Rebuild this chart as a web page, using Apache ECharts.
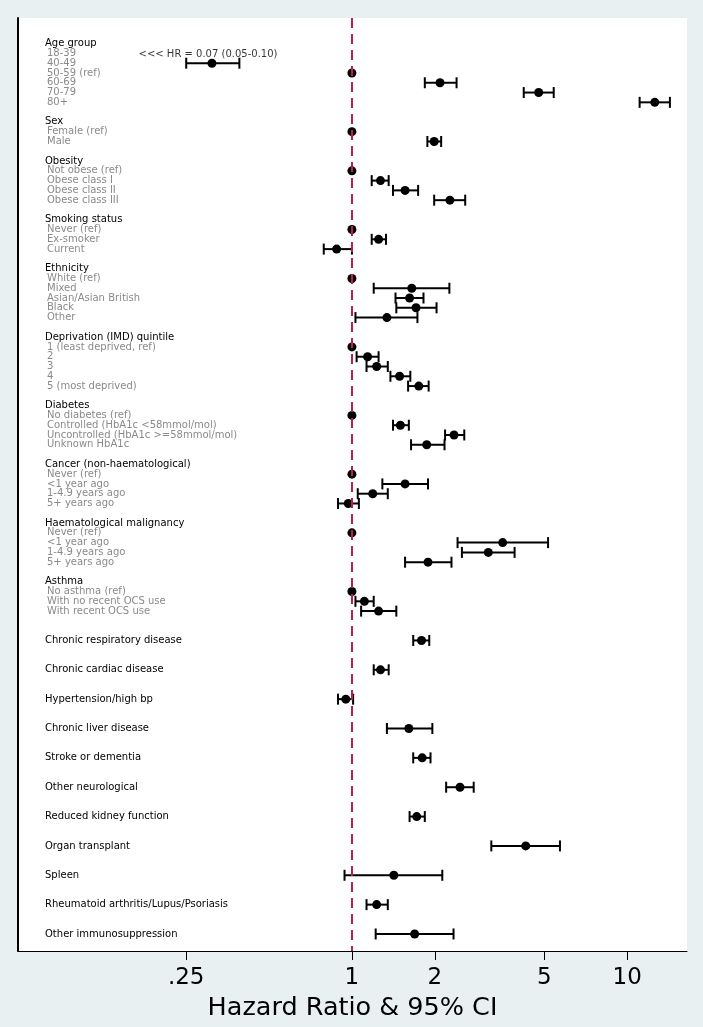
<!DOCTYPE html>
<html>
<head>
<meta charset="utf-8">
<script src="https://cdn.jsdelivr.net/npm/echarts@6/dist/echarts.min.js"></script>
<style>
html,body{margin:0;padding:0;background:#e9f0f2;}
#chart{width:703px;height:1027px;}
</style>
</head>
<body>
<div id="chart"></div>
<script>
// ---------------- DATA ----------------
const groupNames = ['Age group','Sex','Obesity','Smoking status','Ethnicity','Deprivation (IMD) quintile','Diabetes','Cancer (non-haematological)','Haematological malignancy','Asthma'];
const groupLevels = [
  ['18-39','40-49','50-59 (ref)','60-69','70-79','80+'],
  ['Female (ref)','Male'],
  ['Not obese (ref)','Obese class I','Obese class II','Obese class III'],
  ['Never (ref)','Ex-smoker','Current'],
  ['White (ref)','Mixed','Asian/Asian British','Black','Other'],
  ['1 (least deprived, ref)','2','3','4','5 (most deprived)'],
  ['No diabetes (ref)','Controlled (HbA1c <58mmol/mol)','Uncontrolled (HbA1c >=58mmol/mol)','Unknown HbA1c'],
  ['Never (ref)','<1 year ago','1-4.9 years ago','5+ years ago'],
  ['Never (ref)','<1 year ago','1-4.9 years ago','5+ years ago'],
  ['No asthma (ref)','With no recent OCS use','With recent OCS use']
];
const groupHR = [
  [0.07,0.31,1,2.09,4.77,12.6],
  [1,1.99],
  [1,1.27,1.56,2.27],
  [1,1.25,0.88],
  [1,1.65,1.62,1.71,1.34],
  [1,1.14,1.23,1.49,1.75],
  [1,1.50,2.35,1.87],
  [1,1.56,1.19,0.97],
  [1,3.53,3.13,1.89],
  [1,1.11,1.25]
];
const groupLo = [
  [0.05,0.25,null,1.84,4.21,11.1],
  [null,1.88],
  [null,1.18,1.41,1.99],
  [null,1.18,0.79],
  [null,1.20,1.44,1.45,1.03],
  [null,1.04,1.13,1.38,1.60],
  [null,1.41,2.18,1.64],
  [null,1.29,1.05,0.89],
  [null,2.42,2.51,1.56],
  [null,1.03,1.08]
];
const groupHi = [
  [0.10,0.39,null,2.40,5.41,14.3],
  [null,2.11],
  [null,1.36,1.74,2.58],
  [null,1.33,1.00],
  [null,2.26,1.82,2.03,1.73],
  [null,1.25,1.35,1.63,1.90],
  [null,1.61,2.56,2.17],
  [null,1.89,1.35,1.06],
  [null,5.16,3.90,2.30],
  [null,1.20,1.45]
];
const singleNames = ['Chronic respiratory disease','Chronic cardiac disease','Hypertension/high bp','Chronic liver disease','Stroke or dementia','Other neurological','Reduced kidney function','Organ transplant','Spleen','Rheumatoid arthritis/Lupus/Psoriasis','Other immunosuppression'];
const singleHR = [1.79,1.27,0.95,1.61,1.80,2.47,1.72,4.28,1.42,1.23,1.69];
const singleLo = [1.67,1.20,0.89,1.34,1.67,2.20,1.62,3.21,0.94,1.13,1.22];
const singleHi = [1.91,1.36,1.01,1.96,1.93,2.77,1.84,5.70,2.13,1.35,2.34];
const tickValues = [0.25,1,2,5,10];
const tickLabels = ['.25','1','2','5','10'];
const axisTitle = 'Hazard Ratio & 95% CI';

// ---------------- LAYOUT ----------------
const HR_MIN = 0.0612, HR_MAX = 16.5;   // axis range (hazard-ratio scale)
const ANNOT_AT = 0.30;                  // where the off-scale note is centred
const lg = v => Math.log10(v);

const labelRows = [];   // {row,text,kind}
const points = [];      // [x,row]
const cis = [];         // [lo,hi,row]
const notes = [];       // {value:[x,row], text}
let r = 0, last = 0;
groupNames.forEach((g, gi) => {
  labelRows.push({row: r, text: g, kind: 'h'});
  groupLevels[gi].forEach((lv, j) => {
    r++;
    labelRows.push({row: r, text: lv, kind: 'i'});
    const hr = groupHR[gi][j], lo = groupLo[gi][j], hi = groupHi[gi][j];
    if (lo != null && lo < HR_MIN) {
      notes.push({value: [lg(ANNOT_AT), r],
        text: '<<< HR = ' + hr.toFixed(2) + ' (' + lo.toFixed(2) + '-' + hi.toFixed(2) + ')'});
    } else {
      points.push([lg(hr), r]);
      if (lo != null) cis.push([lg(lo), lg(hi), r]);
    }
  });
  last = r;
  r += 2;
});
r = last + 3;
singleNames.forEach((s, i) => {
  labelRows.push({row: r, text: s, kind: 's'});
  points.push([lg(singleHR[i]), r]);
  cis.push([lg(singleLo[i]), lg(singleHi[i]), r]);
  r += 3;
});
const lastRow = r - 3;
const labelMap = {};
labelRows.forEach(d => labelMap[d.row] = d);
// an empty guard label above the first row keeps ECharts' min-label overlap check away from real labels
const yLabelValues = [-2].concat(labelRows.map(d => d.row));

const FONT = 'DejaVu Sans';
const chart = echarts.init(document.getElementById('chart'), null, {renderer: 'canvas'});
chart.setOption({
  animation: false,
  backgroundColor: '#e9f0f2',
  grid: {left: 18, right: 16, top: 18, bottom: 76, containLabel: false, outerBoundsMode: 'none',
         show: true, backgroundColor: '#ffffff', borderWidth: 0},
  xAxis: {
    type: 'value', min: lg(HR_MIN), max: lg(HR_MAX), position: 'bottom',
    axisLine: {onZero: false, lineStyle: {color: '#000', width: 1}},
    axisTick: {show: true, length: 9, customValues: tickValues.map(lg), lineStyle: {color: '#000', width: 1}},
    axisLabel: {
      customValues: tickValues.map(lg), margin: 16, fontSize: 23, color: '#000', fontFamily: FONT,
      showMinLabel: true, showMaxLabel: true,
      formatter: v => {
        let best = 0;
        tickValues.forEach((t, i) => { if (Math.abs(lg(t) - v) < Math.abs(lg(tickValues[best]) - v)) best = i; });
        return tickLabels[best];
      }
    },
    splitLine: {show: false},
    name: axisTitle, nameLocation: 'middle', nameGap: 37,
    nameTextStyle: {fontSize: 25.5, color: '#000', fontFamily: FONT}
  },
  yAxis: {
    type: 'value', inverse: true, min: -2.62, max: lastRow + 1.74,
    axisLine: {show: true, onZero: false, lineStyle: {color: '#000', width: 2}},
    axisTick: {show: false},
    splitLine: {show: false},
    axisLabel: {
      inside: true, margin: 27, customValues: yLabelValues,
      hideOverlap: false, showMaxLabel: true,
      fontSize: 10, lineHeight: 8, fontFamily: FONT,
      formatter: v => {
        const d = labelMap[Math.round(v)];
        if (!d || v < 0) return '';
        return '{' + (d.kind === 'i' ? 'i' : 'h') + '|' + d.text + '}';
      },
      rich: {
        h: {fontSize: 10, lineHeight: 8, color: '#000', fontFamily: FONT},
        i: {fontSize: 10, lineHeight: 8, color: '#8a8a8a', fontFamily: FONT, padding: [0, 0, 0, 2]}
      }
    }
  },
  series: [
    {
      type: 'scatter', data: [], z: 1, silent: true,
      markLine: {
        silent: true, symbol: ['none', 'none'], label: {show: false},
        lineStyle: {color: '#bb1d4e', width: 2, type: [10, 6]},
        data: [{xAxis: lg(1)}]
      }
    },
    {
      type: 'custom', data: cis, z: 3, silent: true,
      encode: {x: [0, 1], y: 2},
      renderItem: (params, api) => {
        const y = api.value(2);
        const a = api.coord([api.value(0), y]);
        const b = api.coord([api.value(1), y]);
        const h = 5.5;
        const st = {stroke: '#000', lineWidth: 2};
        return {type: 'group', children: [
          {type: 'line', shape: {x1: a[0], y1: a[1], x2: b[0], y2: b[1]}, style: st},
          {type: 'line', shape: {x1: a[0], y1: a[1] - h, x2: a[0], y2: a[1] + h}, style: st},
          {type: 'line', shape: {x1: b[0], y1: b[1] - h, x2: b[0], y2: b[1] + h}, style: st}
        ]};
      }
    },
    {
      type: 'scatter', data: points, z: 4, symbol: 'circle', symbolSize: 9, silent: true,
      itemStyle: {color: '#000', opacity: 1}
    },
    {
      type: 'scatter', z: 4, symbolSize: 0, silent: true,
      data: notes.map(n => ({value: n.value, text: n.text})),
      label: {show: true, position: 'inside', offset: [0, 1], formatter: p => p.data.text,
              fontSize: 10, color: '#000', fontFamily: FONT}
    }
  ]
});
</script>
</body>
</html>
